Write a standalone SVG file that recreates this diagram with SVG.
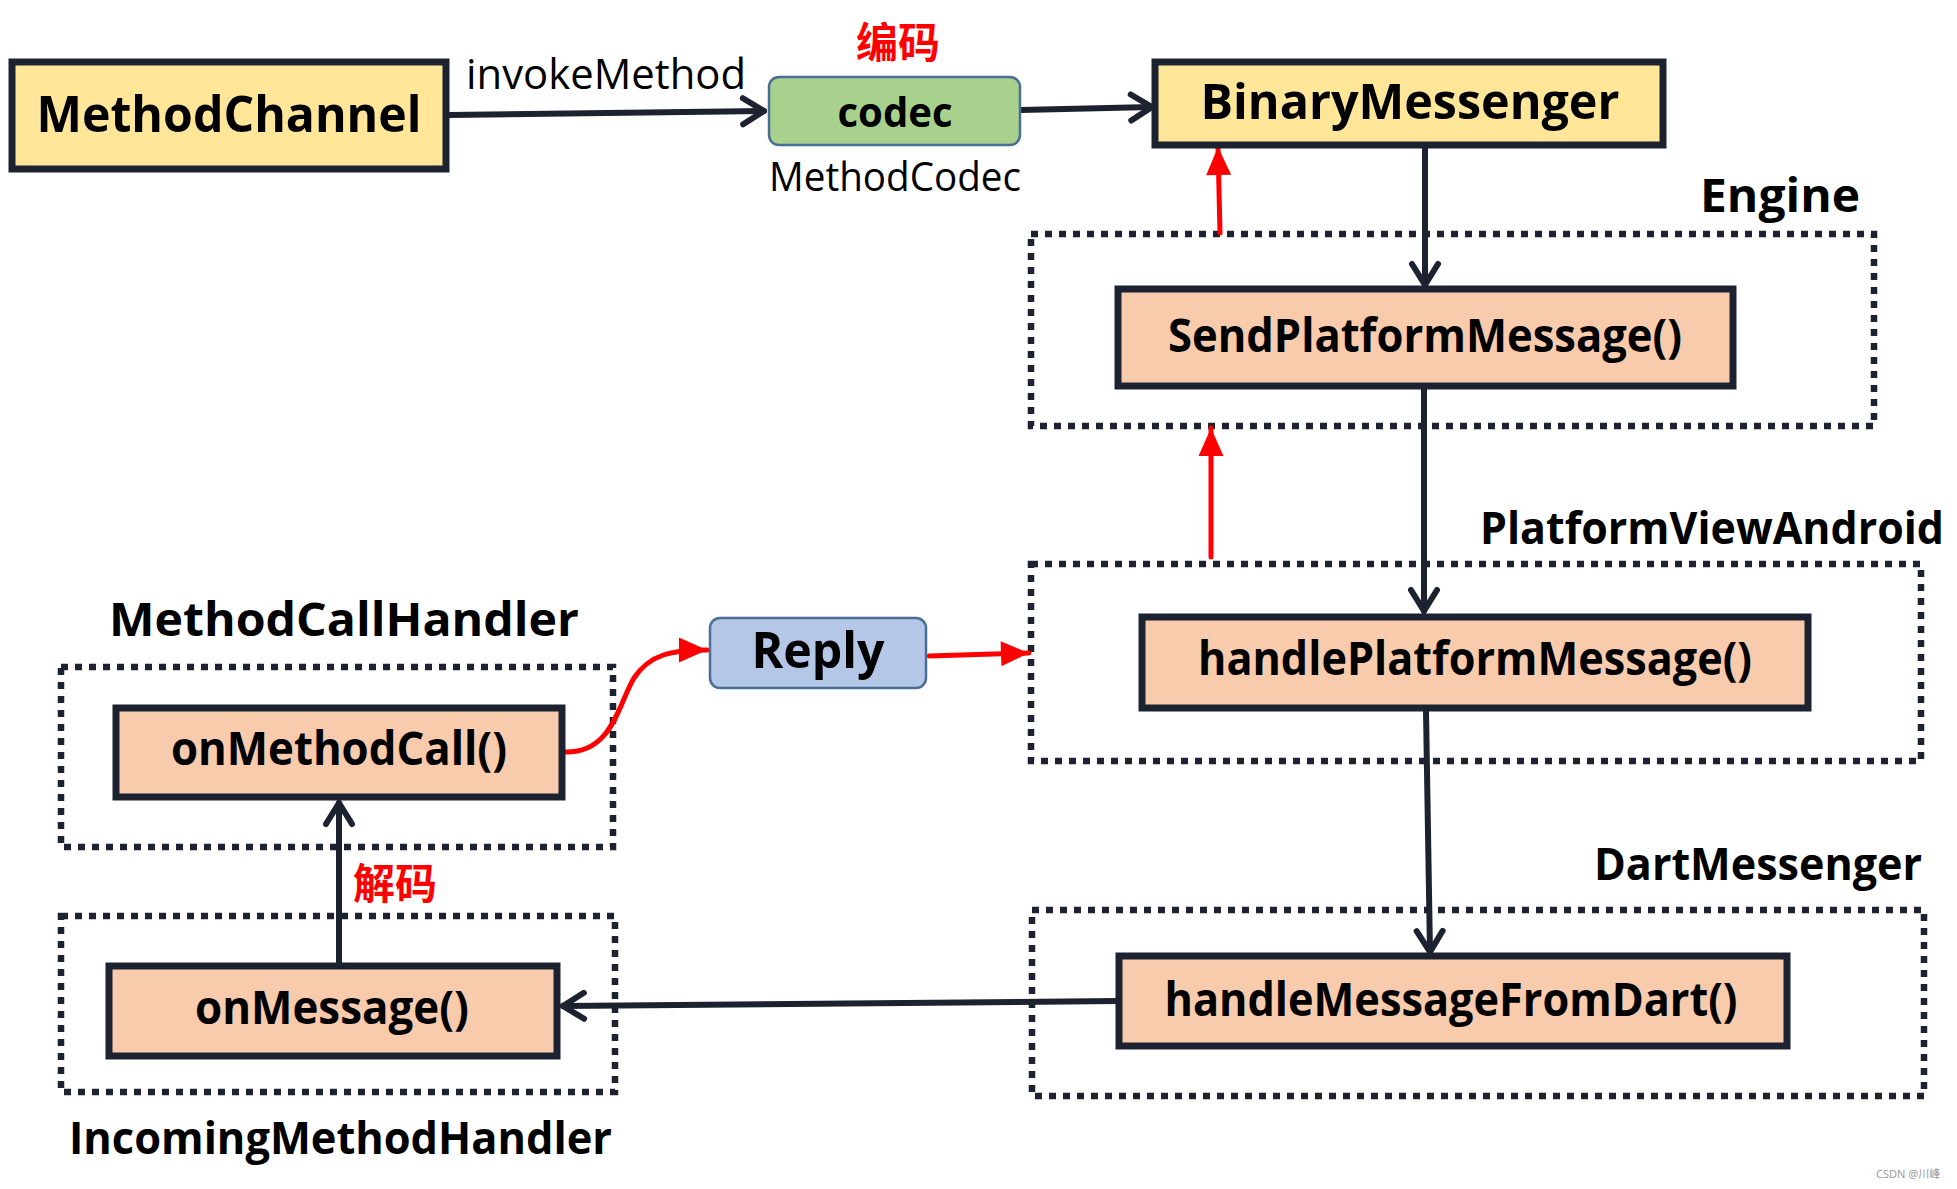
<svg xmlns="http://www.w3.org/2000/svg" width="1957" height="1189" viewBox="0 0 1957 1189">
<style>
.box{stroke:#1D2230;stroke-width:7}
.yel{fill:#FFE699}
.pch{fill:#F8CBAD}
.grp{fill:none;stroke:#1D2230;stroke-width:6.5;stroke-dasharray:7 7}
.b{font-family:"Open Sans","Noto Sans",sans-serif;font-weight:700;fill:#000}
.r{font-family:"Open Sans","Noto Sans",sans-serif;font-weight:400;fill:#000}
.cn{font-family:"Noto Sans CJK SC",sans-serif;font-weight:700;fill:#FF0000}
.dk{fill:none;stroke:#1D2230;stroke-width:6;stroke-linecap:round}
.rd{fill:none;stroke:#FF0000;stroke-width:5;stroke-linecap:round}
</style>
<defs>
<marker id="open" viewBox="-30 -20 36 40" refX="0" refY="0" markerWidth="36" markerHeight="40" markerUnits="userSpaceOnUse" orient="auto" overflow="visible">
<path d="M-21,-13 L0,0 L-21,13" fill="none" stroke="#1D2230" stroke-width="6" stroke-linecap="round" stroke-linejoin="round"/>
</marker>
<marker id="red" viewBox="-32 -16 34 32" refX="0" refY="0" markerWidth="34" markerHeight="32" markerUnits="userSpaceOnUse" orient="auto" overflow="visible">
<path d="M-28,-12.5 L0,0 L-28,12.5 Z" fill="#FF0000"/>
</marker>
</defs>
<rect width="1957" height="1189" fill="#FFFFFF"/>

<g id="group-engine">
<rect class="grp" x="1031" y="234" width="843" height="192"/>
<text class="b" x="1700" y="212" font-size="46" textLength="160" lengthAdjust="spacingAndGlyphs">Engine</text>
</g>
<g id="group-platformviewandroid">
<rect class="grp" x="1031" y="564" width="890" height="197"/>
<text class="b" x="1480" y="544" font-size="44" textLength="464" lengthAdjust="spacingAndGlyphs">PlatformViewAndroid</text>
</g>
<g id="group-dartmessenger">
<rect class="grp" x="1032" y="910" width="892" height="186"/>
<text class="b" x="1594" y="880" font-size="44" textLength="328" lengthAdjust="spacingAndGlyphs">DartMessenger</text>
</g>
<g id="group-methodcallhandler">
<rect class="grp" x="61" y="667" width="552" height="180"/>
<text class="b" x="109" y="636" font-size="46" textLength="470" lengthAdjust="spacingAndGlyphs">MethodCallHandler</text>
</g>
<g id="group-incomingmethodhandler">
<rect class="grp" x="61" y="916" width="554" height="176"/>
<text class="b" x="69" y="1154" font-size="44" textLength="543" lengthAdjust="spacingAndGlyphs">IncomingMethodHandler</text>
</g>

<g id="connectors">
<line class="dk" x1="449" y1="115" x2="764" y2="111" marker-end="url(#open)"/>
<line class="dk" x1="1021" y1="110" x2="1152" y2="107" marker-end="url(#open)"/>
<line class="dk" x1="1425" y1="146" x2="1425" y2="285" marker-end="url(#open)"/>
<line class="dk" x1="1424" y1="389" x2="1424" y2="611" marker-end="url(#open)"/>
<line class="dk" x1="1426" y1="711" x2="1430" y2="952" marker-end="url(#open)"/>
<line class="dk" x1="1117" y1="1001" x2="563" y2="1006" stroke-width="6.5" marker-end="url(#open)"/>
<line class="dk" x1="339" y1="963" x2="339" y2="803" marker-end="url(#open)"/>
<line class="rd" x1="1220" y1="233" x2="1218" y2="147" marker-end="url(#red)"/>
<line class="rd" x1="1211" y1="557" x2="1211" y2="428" marker-end="url(#red)"/>
<path class="rd" d="M564,752 C612,754 618,705 634,678 C650,654 672,650 707,650" marker-end="url(#red)"/>
<line class="rd" x1="929" y1="656" x2="1029" y2="653" marker-end="url(#red)"/>
</g>

<g id="node-methodchannel">
<rect class="box yel" x="12" y="62" width="434" height="107"/>
<text class="b" x="229" y="132" font-size="50" text-anchor="middle" textLength="385" lengthAdjust="spacingAndGlyphs">MethodChannel</text>
</g>
<g id="label-invokemethod">
<text class="r" x="466" y="89" font-size="42" textLength="280" lengthAdjust="spacingAndGlyphs">invokeMethod</text>
</g>
<g id="node-codec">
<rect x="769" y="77" width="251" height="68" rx="10" fill="#A9D18E" stroke="#4A6E94" stroke-width="2.5"/>
<text class="b" x="895" y="127" font-size="42" text-anchor="middle" textLength="115" lengthAdjust="spacingAndGlyphs">codec</text>
<text class="cn" x="898" y="58" font-size="42" text-anchor="middle" textLength="84" lengthAdjust="spacingAndGlyphs">编码</text>
<text class="r" x="895" y="191" font-size="40" text-anchor="middle" textLength="252" lengthAdjust="spacingAndGlyphs">MethodCodec</text>
</g>
<g id="node-binarymessenger">
<rect class="box yel" x="1155" y="62" width="508" height="83"/>
<text class="b" x="1410" y="119" font-size="48" text-anchor="middle" textLength="419" lengthAdjust="spacingAndGlyphs">BinaryMessenger</text>
</g>
<g id="node-sendplatformmessage">
<rect class="box pch" x="1118" y="289" width="615" height="97"/>
<text class="b" x="1425" y="352" font-size="46" text-anchor="middle" textLength="514" lengthAdjust="spacingAndGlyphs">SendPlatformMessage()</text>
</g>
<g id="node-handleplatformmessage">
<rect class="box pch" x="1142" y="617" width="666" height="91"/>
<text class="b" x="1475" y="675" font-size="46" text-anchor="middle" textLength="554" lengthAdjust="spacingAndGlyphs">handlePlatformMessage()</text>
</g>
<g id="node-handlemessagefromdart">
<rect class="box pch" x="1119" y="956" width="668" height="90"/>
<text class="b" x="1451" y="1016" font-size="46" text-anchor="middle" textLength="573" lengthAdjust="spacingAndGlyphs">handleMessageFromDart()</text>
</g>
<g id="node-onmessage">
<rect class="box pch" x="109" y="966" width="448" height="90"/>
<text class="b" x="332" y="1024" font-size="46" text-anchor="middle" textLength="274" lengthAdjust="spacingAndGlyphs">onMessage()</text>
</g>
<g id="node-onmethodcall">
<rect class="box pch" x="116" y="708" width="446" height="89"/>
<text class="b" x="339" y="765" font-size="46" text-anchor="middle" textLength="336" lengthAdjust="spacingAndGlyphs">onMethodCall()</text>
</g>
<g id="label-decode">
<text class="cn" x="353" y="899" font-size="42" textLength="84" lengthAdjust="spacingAndGlyphs">解码</text>
</g>
<g id="node-reply">
<rect x="710" y="618" width="216" height="70" rx="10" fill="#B4C7E7" stroke="#4A6E94" stroke-width="2.5"/>
<text class="b" x="818" y="668" font-size="50" text-anchor="middle" textLength="133" lengthAdjust="spacingAndGlyphs">Reply</text>
</g>
<g id="watermark">
<text x="1876" y="1178" font-family="'Noto Sans','Noto Sans CJK SC',sans-serif" font-size="11" fill="#9A9A9A">CSDN @川峰</text>
</g>
</svg>
